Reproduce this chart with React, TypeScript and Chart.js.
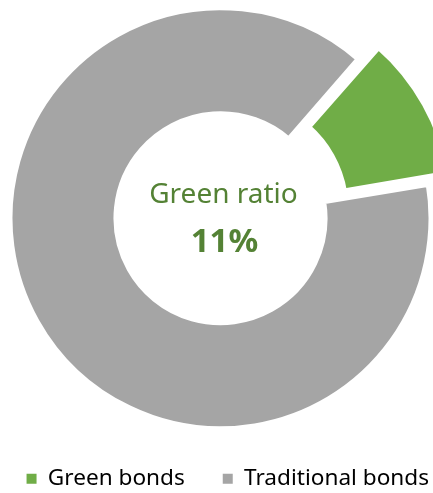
import { useEffect, useRef } from "react"
import { Chart, registerables } from "chart.js"
Chart.register(...registerables)

const LABELS = ["Green bonds", "Traditional bonds"]
const SHARES = [11, 89]
const COLORS = ["#70AD47", "#A5A5A5"]
const CENTER_TITLE = "Green ratio"
const CENTER_VALUE = "11%"
const FONT = "'Noto Sans', 'Open Sans', sans-serif"

const centerText = {
  id: "centerText",
  afterDraw(chart: Chart) {
    const arc = chart.getDatasetMeta(0).data[1] as any
    if (!arc) return
    const ctx = chart.ctx
    ctx.save()
    ctx.fillStyle = "#548235"
    ctx.textAlign = "center"
    ctx.textBaseline = "alphabetic"
    ctx.font = `28px ${FONT}`
    ctx.fillText(CENTER_TITLE, arc.x + 3, arc.y - 15)
    ctx.font = `bold 33px ${FONT}`
    ctx.fillText(CENTER_VALUE, arc.x + 4, arc.y + 34)
    ctx.restore()
  },
}

function Doughnut() {
  const ref = useRef<HTMLCanvasElement>(null)
  useEffect(() => {
    if (!ref.current) return
    const baseLabels = (Chart as any).overrides.doughnut.plugins.legend.labels.generateLabels
    const chart = new Chart(ref.current, {
      type: "doughnut",
      data: {
        labels: LABELS,
        datasets: [{
          data: SHARES,
          backgroundColor: COLORS,
          borderColor: "#ffffff",
          borderWidth: 6,
          offset: [68, 0],
          hoverOffset: 0,
          clip: false as any,
        }],
      },
      options: {
        responsive: true,
        maintainAspectRatio: false,
        animation: false,
        rotation: 41,
        radius: 211,
        cutout: "49.3%",
        layout: { padding: { top: 7, left: 0, right: 0, bottom: 0 } },
        plugins: {
          tooltip: { enabled: false },
          legend: {
            position: "bottom",
            align: "end",
            labels: {
              boxWidth: 10,
              boxHeight: 10,
              padding: 38,
              color: "#000000",
              font: { family: FONT, size: 22.6 },
              generateLabels: (c: Chart) =>
                baseLabels(c).map((l: any) => ({ ...l, lineWidth: 0 })),
            },
          },
        },
      },
      plugins: [centerText],
    })
    return () => chart.destroy()
  }, [])
  return <canvas ref={ref} />
}

export default function App() {
  return (
    <div style={{ position: "fixed", left: 0, top: 0, width: 433, height: 493, overflow: "hidden", background: "#fff" }}>
      <div style={{ position: "absolute", left: -26, top: 0, width: 493, height: 500 }}>
        <Doughnut />
      </div>
    </div>
  )
}
